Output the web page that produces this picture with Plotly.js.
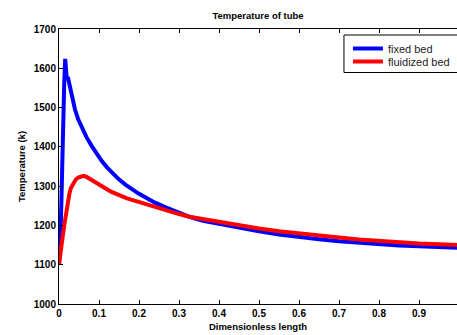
<!DOCTYPE html>
<html>
<head>
<meta charset="utf-8">
<script src="https://cdn.plot.ly/plotly-3.0.1.min.js"></script>
<style>html,body{margin:0;padding:0;background:#fff;}#chart{width:457px;height:335px;}</style>
</head>
<body>
<div id="chart"></div>
<script>
var xFixed = [0, 0.003, 0.006, 0.008, 0.009, 0.011, 0.013, 0.0155, 0.0195, 0.022, 0.028, 0.034, 0.040, 0.048, 0.057, 0.069, 0.082, 0.094, 0.107, 0.12, 0.132, 0.149, 0.166, 0.182, 0.199, 0.22, 0.24, 0.27, 0.3, 0.326, 0.36, 0.4, 0.45, 0.5, 0.55, 0.6, 0.65, 0.7, 0.75, 0.8, 0.85, 0.9, 0.95, 1.0];
var tFixed = [1100, 1150, 1260, 1380, 1425, 1430, 1560, 1624, 1572, 1578, 1546, 1519, 1495, 1470, 1449, 1424, 1402, 1382, 1364, 1348, 1334, 1318, 1304, 1292, 1281, 1269, 1258, 1245, 1232, 1222, 1212, 1204, 1194, 1185, 1177, 1170, 1165, 1160, 1156, 1152, 1149, 1147, 1145, 1143];
var xFluid = [0, 0.004, 0.009, 0.013, 0.018, 0.022, 0.026, 0.030, 0.036, 0.042, 0.048, 0.054, 0.061, 0.068, 0.078, 0.088, 0.099, 0.115, 0.13, 0.149, 0.17, 0.199, 0.22, 0.24, 0.27, 0.3, 0.326, 0.36, 0.4, 0.45, 0.5, 0.55, 0.6, 0.65, 0.7, 0.75, 0.8, 0.85, 0.9, 0.95, 1.0];
var tFluid = [1100, 1125, 1170, 1200, 1233, 1260, 1281, 1296, 1309, 1317, 1322, 1325, 1326, 1324, 1318, 1311, 1303, 1294, 1286, 1278, 1269, 1260, 1253, 1247, 1238, 1229, 1222, 1216, 1209, 1200, 1192, 1185, 1179, 1174, 1169, 1164, 1160, 1157, 1154, 1152, 1150];
var seriesNames = ['fixed bed', 'fluidized bed'];
var titleText = 'Temperature of tube';
var xTitle = 'Dimensionless length';
var yTitle = 'Temperature (k)';
var xTicks = [0, 0.1, 0.2, 0.3, 0.4, 0.5, 0.6, 0.7, 0.8, 0.9];
var yTicks = [1000, 1100, 1200, 1300, 1400, 1500, 1600, 1700];

var fam = 'Liberation Sans, Arial, Helvetica, sans-serif';
var traces = [
  {x: xFixed, y: tFixed, name: seriesNames[0], mode: 'lines', line: {color: '#0000ff', width: 4}, legend: 'legend'},
  {x: xFluid, y: tFluid, name: seriesNames[1], mode: 'lines', line: {color: '#ff0000', width: 4}, legend: 'legend2'}
];
var axisCommon = {
  showline: true, linecolor: '#000', linewidth: 1, ticks: 'inside', ticklen: 4, tickwidth: 1, tickcolor: '#000',
  showgrid: false, zeroline: false,
  tickfont: {family: fam, size: 10, color: '#000', weight: 'bold'}
};
var legFont = {family: fam, size: 11, color: '#222'};
var layout = {
  width: 457, height: 335,
  margin: {l: 59, r: 0, t: 29, b: 31},
  paper_bgcolor: '#fff', plot_bgcolor: '#fff',
  title: {text: titleText, x: 0.5, xref: 'paper', xanchor: 'center', y: 0.952, yanchor: 'middle',
          font: {family: fam, size: 9.5, color: '#000', weight: 'bold'}},
  xaxis: Object.assign({}, axisCommon, {range: [0, 0.995], tickvals: xTicks, ticktext: xTicks.map(String), mirror: 'ticks',
          title: {text: xTitle, standoff: 5, font: {family: fam, size: 9.5, color: '#000', weight: 'bold'}}}),
  yaxis: Object.assign({}, axisCommon, {range: [1000, 1700], tickvals: yTicks, mirror: false,
          title: {text: yTitle, standoff: 6, font: {family: fam, size: 9.5, color: '#000', weight: 'bold'}}}),
  legend: {x: 0.726, y: 1 - (34 - 29) / 275, xanchor: 'left', yanchor: 'top', bgcolor: 'rgba(0,0,0,0)', borderwidth: 0, font: legFont},
  legend2: {x: 0.726, y: 1 - (47 - 29) / 275, xanchor: 'left', yanchor: 'top', bgcolor: 'rgba(0,0,0,0)', borderwidth: 0, font: legFont},
  shapes: [{type: 'rect', xref: 'paper', yref: 'paper', x0: 0.716, x1: 1.03, y0: 1 - (72.5 - 29) / 275, y1: 1 - (35 - 29) / 275,
            line: {color: '#000', width: 1}, fillcolor: 'rgba(0,0,0,0)', layer: 'above'}],
  showlegend: true
};
Plotly.newPlot('chart', traces, layout, {staticPlot: true, displayModeBar: false});
</script>
</body>
</html>
